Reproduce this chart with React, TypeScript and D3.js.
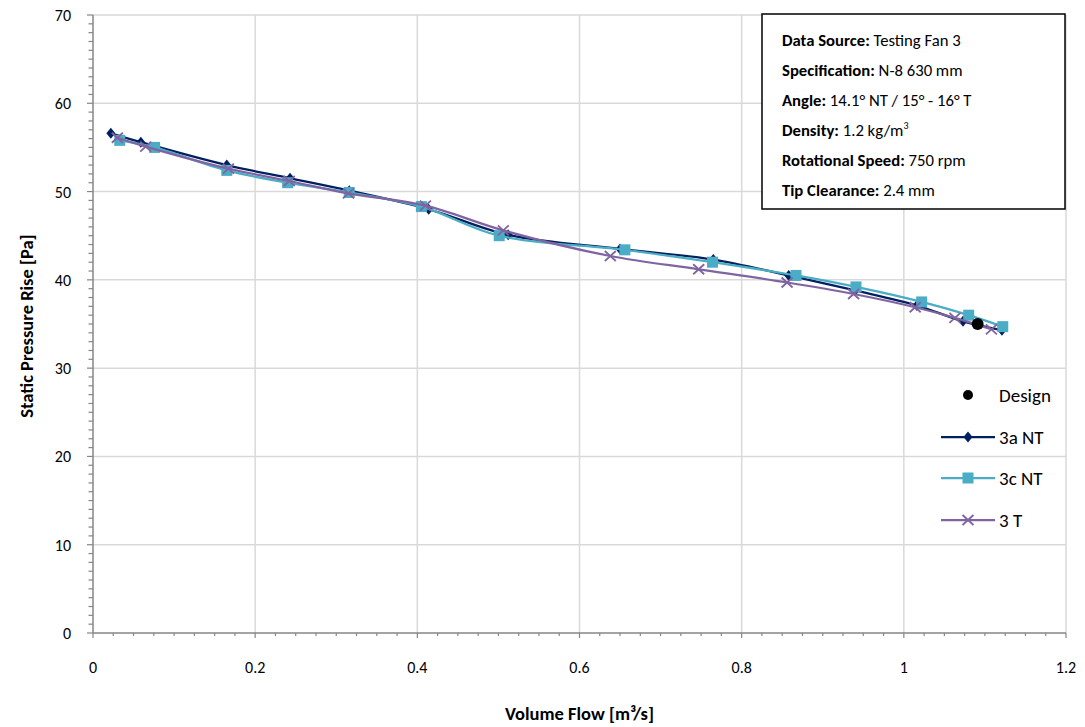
import React from 'react';
import * as d3 from 'd3';

// 3a NT (no tip treatment)
const flow3a = [0.022, 0.059, 0.165, 0.243, 0.316, 0.414, 0.512, 0.650, 0.765, 0.858, 0.940, 1.016, 1.073, 1.121];
const press3a = [56.6, 55.6, 53.0, 51.5, 50.1, 48.0, 45.1, 43.5, 42.3, 40.5, 38.8, 37.1, 35.3, 34.3];

// 3c NT
const flow3c = [0.033, 0.076, 0.165, 0.240, 0.316, 0.405, 0.501, 0.656, 0.764, 0.867, 0.941, 1.022, 1.080, 1.122];
const press3c = [55.8, 55.0, 52.4, 51.0, 49.9, 48.3, 45.0, 43.4, 42.0, 40.5, 39.2, 37.5, 36.0, 34.7];

// 3 T
const flow3t = [0.030, 0.065, 0.167, 0.242, 0.315, 0.410, 0.506, 0.638, 0.747, 0.856, 0.938, 1.014, 1.063, 1.108];
const press3t = [56.1, 55.1, 52.6, 51.2, 49.8, 48.4, 45.6, 42.7, 41.2, 39.7, 38.4, 36.9, 35.7, 34.4];

const designFlow = 1.091;
const designPress = 35.0;

const xTicks = [0, 0.2, 0.4, 0.6, 0.8, 1, 1.2];
const yTicks = [0, 10, 20, 30, 40, 50, 60, 70];

const infoLines = [
  ['Data Source:', ' Testing Fan 3'],
  ['Specification:', ' N-8 630 mm'],
  ['Angle:', ' 14.1° NT / 15° - 16° T'],
  ['Density:', ' 1.2 kg/m'],
  ['Rotational Speed:', ' 750 rpm'],
  ['Tip Clearance:', ' 2.4 mm'],
];

const FONT = 'Carlito, Calibri, Lato, sans-serif';

const series = [
  { name: '3a NT', color: '#002060', marker: 'diamond', xs: flow3a, ys: press3a },
  { name: '3c NT', color: '#4BACC6', marker: 'square', xs: flow3c, ys: press3c },
  { name: '3 T', color: '#8064A2', marker: 'cross', xs: flow3t, ys: press3t },
];

function Marker({ type, x, y, color }: { type: string; x: number; y: number; color: string }) {
  if (type === 'diamond') {
    return <path d={`M${x},${y - 5.5}L${x + 4.5},${y}L${x},${y + 5.5}L${x - 4.5},${y}Z`} fill={color} />;
  }
  if (type === 'square') {
    return <rect x={x - 5.5} y={y - 5.5} width={11} height={11} fill={color} />;
  }
  return (
    <path
      d={`M${x - 5.5},${y - 5}L${x + 5.5},${y + 5}M${x - 5.5},${y + 5}L${x + 5.5},${y - 5}`}
      stroke={color}
      strokeWidth={1.8}
      fill="none"
    />
  );
}

export default function App() {
  const width = 1085;
  const height = 727;
  const left = 93;
  const right = 1066;
  const top = 15;
  const bottom = 633;

  const x = d3.scaleLinear().domain([0, 1.2]).range([left, right]);
  const y = d3.scaleLinear().domain([0, 70]).range([bottom, top]);

  const line = d3
    .line<[number, number]>()
    .curve(d3.curveCatmullRom.alpha(0.5))
    .x((d) => x(d[0]))
    .y((d) => y(d[1]));

  const xMinor = d3.range(0, 1.2001, 0.025);
  const yMinor = d3.range(0, 70.001, 1);

  const legendX = 941;
  const legendY = [395, 437, 478, 520];

  return (
    <svg
      width={width}
      height={height}
      style={{ position: 'absolute', left: 0, top: 0, background: '#fff' }}
      fontFamily={FONT}
    >
      <rect width={width} height={height} fill="#fff" />

      {/* gridlines */}
      {xTicks.slice(1).map((t) => (
        <line key={'gx' + t} x1={x(t)} x2={x(t)} y1={top} y2={bottom} stroke="#d9d9d9" strokeWidth={1.5} />
      ))}
      {yTicks.slice(1).map((t) => (
        <line key={'gy' + t} x1={left} x2={right} y1={y(t)} y2={y(t)} stroke="#d9d9d9" strokeWidth={1.5} />
      ))}

      {/* axes */}
      <line x1={left} x2={left} y1={top} y2={bottom} stroke="#868686" strokeWidth={1.5} />
      <line x1={left} x2={right} y1={bottom} y2={bottom} stroke="#868686" strokeWidth={1.5} />
      {xMinor.map((t, i) => (
        <line key={'xm' + i} x1={x(t)} x2={x(t)} y1={bottom} y2={bottom + (i % 8 === 0 ? 5 : 3)} stroke="#868686" strokeWidth={1.2} />
      ))}
      {yMinor.map((t, i) => (
        <line key={'ym' + i} x1={left - (i % 10 === 0 ? 6 : 4.5)} x2={left} y1={y(t)} y2={y(t)} stroke="#868686" strokeWidth={1.2} />
      ))}

      {xTicks.map((t) => (
        <text key={'xt' + t} x={x(t)} y={673} textAnchor="middle" fontSize={16} fill="#000">
          {t}
        </text>
      ))}
      {yTicks.map((t) => (
        <text key={'yt' + t} x={71} y={y(t) + 6} textAnchor="end" fontSize={16} fill="#000">
          {t}
        </text>
      ))}

      <text x={(left + right) / 2} y={720} textAnchor="middle" fontSize={18.5} fontWeight="bold">
        Volume Flow [m³/s]
      </text>
      <text
        transform={`translate(33,326) rotate(-90)`}
        textAnchor="middle"
        fontSize={18.5}
        fontWeight="bold"
      >
        Static Pressure Rise [Pa]
      </text>

      {/* series */}
      {series.map((s) => {
        const pts = s.xs.map((v, i) => [v, s.ys[i]] as [number, number]);
        return (
          <g key={s.name}>
            <path d={line(pts) || ''} fill="none" stroke={s.color} strokeWidth={2.25} />
            {pts.map((p, i) => (
              <Marker key={i} type={s.marker} x={x(p[0])} y={y(p[1])} color={s.color} />
            ))}
          </g>
        );
      })}
      <circle cx={x(designFlow)} cy={y(designPress)} r={6} fill="#000" />

      {/* info box */}
      <rect x={762} y={14} width={303} height={195} fill="#fff" stroke="#000" strokeWidth={1.5} />
      {infoLines.map((l, i) => (
        <text key={l[0]} x={782} y={46 + i * 30} fontSize={16.7}>
          <tspan fontWeight="bold">{l[0]}</tspan>
          <tspan>{l[1]}</tspan>
          {i === 3 ? (
            <tspan fontSize={10} dy={-7}>
              3
            </tspan>
          ) : null}
        </text>
      ))}

      {/* legend */}
      <circle cx={968} cy={legendY[0]} r={5} fill="#000" />
      <text x={999} y={legendY[0] + 7} fontSize={19}>
        Design
      </text>
      {series.map((s, i) => (
        <g key={'lg' + s.name}>
          <line x1={legendX} x2={legendX + 54} y1={legendY[i + 1]} y2={legendY[i + 1]} stroke={s.color} strokeWidth={2.25} />
          <Marker type={s.marker} x={legendX + 27} y={legendY[i + 1]} color={s.color} />
          <text x={999} y={legendY[i + 1] + 7} fontSize={19}>
            {s.name}
          </text>
        </g>
      ))}
    </svg>
  );
}
